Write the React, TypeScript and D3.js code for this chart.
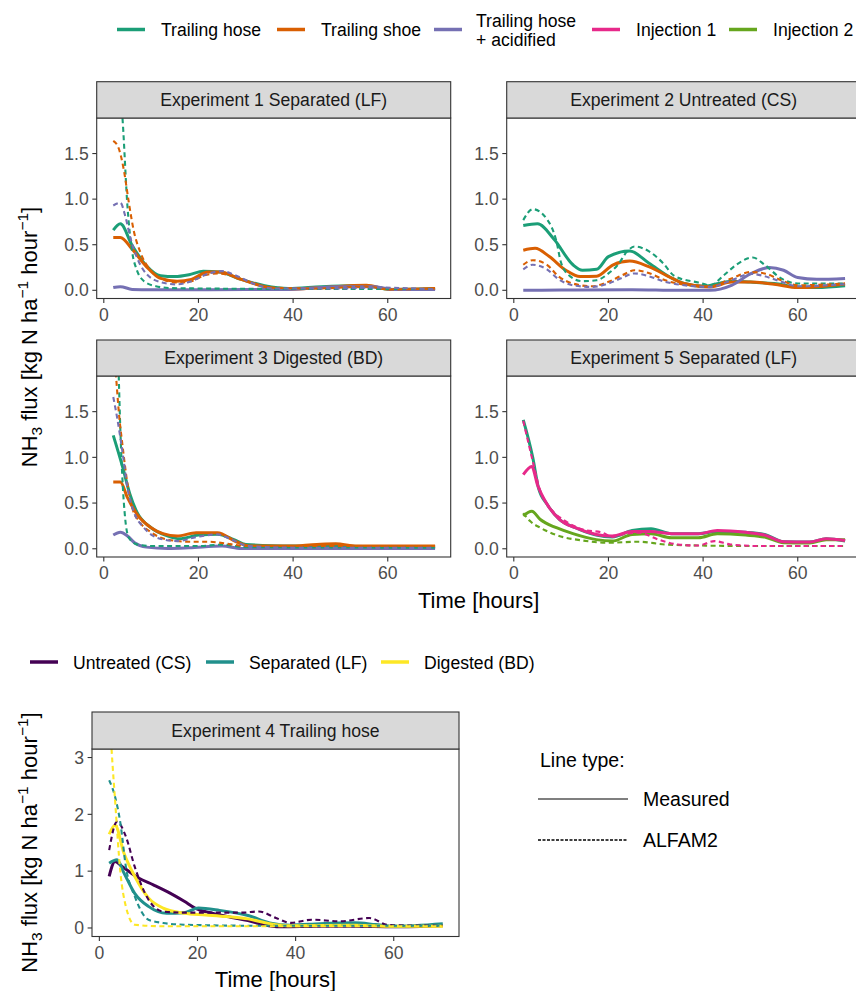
import React from 'react';
import * as d3 from 'd3';

type Pt = [number, number];

// colours (Dark2 for methods, viridis for slurry types)
const methodNames = ['Trailing hose', 'Trailing shoe', 'Trailing hose\n+ acidified', 'Injection 1', 'Injection 2'];
const methodColors = ['#1B9E77', '#D95F02', '#7570B3', '#E7298A', '#66A61E'];
const slurryNames = ['Untreated (CS)', 'Separated (LF)', 'Digested (BD)'];
const slurryColors = ['#440154', '#21908C', '#FDE725'];

const xTicks = [0, 20, 40, 60];
const yTicksTop = [0, 0.5, 1, 1.5];
const yTicksExp4 = [0, 1, 2, 3];

// Experiment 1 Separated (LF)
const e1HoseMeas: Pt[] = [[2, 0.66], [3.5, 0.73], [6, 0.49], [9, 0.27], [12, 0.16], [15, 0.15], [18, 0.17], [21, 0.21], [24.5, 0.2], [29, 0.12], [34, 0.05], [39, 0.02], [46, 0.04], [53, 0.05], [57, 0.04], [60.5, 0.01], [70, 0.02]];
const e1ShoeMeas: Pt[] = [[2, 0.58], [3.5, 0.58], [6, 0.45], [9, 0.26], [12, 0.13], [15.5, 0.1], [18.5, 0.12], [22, 0.2], [24.5, 0.2], [29, 0.12], [34, 0.04], [39, 0.01], [46, 0.03], [55.5, 0.055], [60.5, 0.01], [70, 0.02]];
const e1AcidMeas: Pt[] = [[2, 0.03], [3.5, 0.04], [6, 0.01], [10, 0.005], [20, 0.005], [30, 0.008], [39, 0.01], [50, 0.04], [57, 0.04], [61, 0.01], [70, 0.01]];
const e1HoseAlf: Pt[] = [[2, 3.0], [3, 2.5], [4, 1.85], [5, 0.92], [6, 0.42], [7, 0.22], [8.5, 0.1], [11, 0.045], [14, 0.025], [20, 0.02], [40, 0.015], [70, 0.015]];
const e1ShoeAlf: Pt[] = [[2, 1.64], [3.2, 1.55], [4.2, 1.33], [5.3, 0.96], [6.3, 0.66], [7.7, 0.42], [10, 0.21], [12.5, 0.12], [15.5, 0.085], [18.5, 0.1], [21, 0.16], [24, 0.185], [27, 0.16], [31, 0.085], [35, 0.03], [45, 0.02], [55.5, 0.04], [60.5, 0.01], [70, 0.02]];
const e1AcidAlf: Pt[] = [[2, 0.93], [3.5, 0.96], [4.6, 0.8], [5.6, 0.58], [7, 0.36], [9, 0.18], [12.3, 0.085], [15.5, 0.065], [18.5, 0.1], [22, 0.18], [25, 0.21], [28, 0.16], [32, 0.065], [36, 0.02], [50, 0.02], [57, 0.03], [70, 0.01]];

// Experiment 2 Untreated (CS)
const e2HoseMeas: Pt[] = [[2, 0.71], [5, 0.73], [8.5, 0.56], [12.5, 0.28], [14.5, 0.22], [17.5, 0.23], [20, 0.37], [24.5, 0.43], [28.5, 0.3], [33.5, 0.13], [36, 0.074], [40, 0.044], [46, 0.1], [50, 0.09], [55, 0.074], [60, 0.037], [64, 0.03], [70, 0.05]];
const e2ShoeMeas: Pt[] = [[2, 0.44], [4.5, 0.46], [7.5, 0.37], [11, 0.22], [14, 0.15], [17.5, 0.155], [21, 0.28], [24.5, 0.32], [28.5, 0.26], [33.5, 0.13], [36, 0.074], [41.5, 0.037], [46, 0.09], [50, 0.09], [55, 0.067], [60, 0.03], [70, 0.07]];
const e2AcidMeas: Pt[] = [[2, 0.0], [10, 0.003], [25, 0.007], [35, 0.0], [41.5, 0.0], [46, 0.055], [50, 0.18], [54, 0.25], [57, 0.22], [60, 0.14], [64, 0.12], [70, 0.13]];
const e2HoseAlf: Pt[] = [[2, 0.77], [4, 0.89], [7, 0.78], [9, 0.54], [10, 0.3], [12, 0.15], [14.5, 0.1], [17.5, 0.11], [20, 0.185], [22, 0.28], [24, 0.43], [25.5, 0.48], [28.5, 0.43], [31.5, 0.3], [34, 0.155], [39, 0.085], [41.5, 0.055], [44.5, 0.17], [47, 0.28], [50.5, 0.36], [53, 0.28], [56.5, 0.13], [60, 0.074], [70, 0.074]];
const e2ShoeAlf: Pt[] = [[2, 0.28], [4, 0.33], [7, 0.28], [9.5, 0.15], [12.5, 0.074], [16.5, 0.044], [20, 0.093], [23, 0.167], [25.5, 0.22], [28.5, 0.19], [32, 0.11], [36, 0.063], [41.5, 0.044], [46, 0.13], [50, 0.2], [53, 0.185], [56.5, 0.11], [60, 0.055], [70, 0.074]];
const e2AcidAlf: Pt[] = [[2, 0.23], [4, 0.28], [7, 0.23], [9.5, 0.12], [12.5, 0.055], [16.5, 0.037], [20, 0.074], [23, 0.14], [25.5, 0.185], [28.5, 0.155], [32, 0.093], [36, 0.055], [41.5, 0.037], [46, 0.11], [50, 0.18], [53, 0.155], [56.5, 0.093], [60, 0.044], [70, 0.067]];

// Experiment 3 Digested (BD)
const e3HoseMeas: Pt[] = [[2, 1.24], [4, 0.89], [5.5, 0.6], [7, 0.4], [10, 0.23], [13.5, 0.14], [16, 0.11], [20, 0.15], [24, 0.16], [27.5, 0.1], [30, 0.048], [40, 0.03], [55, 0.025], [70, 0.02]];
const e3ShoeMeas: Pt[] = [[2, 0.73], [3.5, 0.73], [5, 0.56], [7, 0.38], [10, 0.23], [12.5, 0.165], [15.5, 0.14], [19.5, 0.175], [24, 0.175], [28, 0.077], [31, 0.03], [39, 0.03], [45, 0.048], [49, 0.055], [53.5, 0.03], [70, 0.03]];
const e3AcidMeas: Pt[] = [[2, 0.15], [3.5, 0.18], [5, 0.14], [6.5, 0.066], [9, 0.018], [13.5, 0.004], [18, 0.011], [25, 0.03], [29, 0.004], [70, 0.004]];
const e3HoseAlf: Pt[] = [[2, 4.5], [3, 2.2], [3.5, 1.3], [4, 0.7], [4.5, 0.34], [5.3, 0.12], [7, 0.048], [10, 0.03], [20, 0.03], [25, 0.045], [30, 0.018], [70, 0.012]];
const e3ShoeAlf: Pt[] = [[2, 2.3], [2.5, 1.95], [3.2, 1.48], [4, 1.11], [5, 0.71], [6, 0.45], [7.5, 0.3], [10, 0.18], [13.5, 0.1], [18, 0.077], [22, 0.077], [27, 0.048], [30, 0.03], [70, 0.03]];
const e3AcidAlf: Pt[] = [[2, 1.66], [2.8, 1.44], [4, 1.04], [5, 0.67], [6.3, 0.41], [8.5, 0.23], [11.3, 0.12], [15.5, 0.084], [19.7, 0.13], [24, 0.157], [27, 0.1], [30.5, 0.03], [40, 0.012], [70, 0.01]];

// Experiment 5 Separated (LF)
const e5HoseMeas: Pt[] = [[2, 1.41], [4, 1.0], [5.2, 0.67], [7, 0.49], [9.7, 0.32], [13, 0.23], [17.4, 0.15], [20.8, 0.13], [25, 0.2], [29, 0.22], [33.3, 0.165], [39, 0.165], [43, 0.19], [49, 0.18], [53, 0.157], [57, 0.077], [62.5, 0.073], [66, 0.11], [70, 0.085]];
const e5Inj1Meas: Pt[] = [[2, 0.81], [3.8, 0.9], [5, 0.7], [7, 0.49], [9.7, 0.32], [13, 0.23], [17.4, 0.157], [20.8, 0.14], [25, 0.19], [29, 0.19], [33.3, 0.165], [39, 0.165], [43, 0.2], [49, 0.18], [53, 0.15], [57, 0.077], [62.5, 0.073], [66, 0.11], [70, 0.09]];
const e5Inj2Meas: Pt[] = [[2, 0.36], [3.8, 0.41], [5.6, 0.32], [9, 0.23], [12.5, 0.165], [17.4, 0.1], [20.8, 0.084], [25, 0.157], [29, 0.165], [33.3, 0.12], [39, 0.12], [43, 0.165], [49, 0.15], [53, 0.128], [57, 0.066], [62.5, 0.062], [66, 0.1], [70, 0.1]];
const e5Inj1Alf: Pt[] = [[2, 1.4], [4, 0.96], [5.6, 0.63], [7.6, 0.45], [11, 0.3], [14.6, 0.21], [18.8, 0.175], [20.8, 0.13], [23.6, 0.165], [26.4, 0.175], [30.6, 0.1], [34.7, 0.047], [39, 0.036], [42.4, 0.084], [45.8, 0.047], [52, 0.03], [70, 0.03]];
const e5Inj2Alf: Pt[] = [[2, 0.39], [3.5, 0.3], [5.6, 0.23], [9, 0.15], [14.6, 0.09], [20, 0.066], [26.4, 0.077], [32, 0.047], [39, 0.036], [52, 0.03], [70, 0.03]];

// Experiment 4 Trailing hose
const e4UntrMeas: Pt[] = [[2, 0.91], [3.2, 1.17], [4.7, 1.08], [8, 0.88], [11, 0.76], [14.5, 0.61], [17.3, 0.47], [19.5, 0.35], [23, 0.26], [26.7, 0.19], [30.3, 0.13], [33.2, 0.06], [37, 0.02], [45, 0.03], [52, 0.03], [60, 0.02], [70, 0.04]];
const e4SepMeas: Pt[] = [[2, 1.14], [3.6, 1.2], [5, 0.97], [7.2, 0.61], [10, 0.38], [13.7, 0.26], [17.3, 0.27], [20.2, 0.35], [24.5, 0.31], [30.3, 0.22], [34.7, 0.09], [39, 0.05], [45, 0.076], [52, 0.09], [56.3, 0.06], [60, 0.03], [70, 0.076]];
const e4DigMeas: Pt[] = [[2, 1.65], [3.2, 1.81], [5, 1.32], [7.2, 0.91], [10, 0.53], [13, 0.35], [17.3, 0.26], [21.7, 0.23], [26, 0.2], [30.3, 0.16], [34.7, 0.076], [39, 0.04], [52, 0.05], [60, 0.03], [70, 0.03]];
const e4UntrAlf: Pt[] = [[2, 1.37], [3.6, 1.87], [5.4, 1.61], [7.2, 1.08], [10, 0.5], [13, 0.29], [17.3, 0.27], [23, 0.27], [29, 0.27], [32.5, 0.29], [36, 0.175], [39, 0.09], [43.3, 0.146], [49, 0.117], [55, 0.175], [59, 0.05], [70, 0.04]];
const e4SepAlf: Pt[] = [[2, 2.6], [3.2, 2.31], [4.3, 1.84], [5.4, 1.08], [7.2, 0.56], [10, 0.146], [13, 0.088], [17.3, 0.058], [30, 0.04], [70, 0.04]];
const e4DigAlf: Pt[] = [[2, 3.9], [2.5, 3.13], [3.2, 2.25], [4.3, 0.97], [5.4, 0.38], [7.2, 0.058], [13, 0.03], [70, 0.03]];

type Series = { data: Pt[]; color: string; dashed: boolean };
type Panel = {
  id: string; title: string; left: number; right: number; strip: number; top: number; bottom: number;
  yDomain: [number, number]; yTicks: number[]; yFmt: (v: number) => string; series: Series[];
};

const fmt1 = d3.format('.1f');
const fmt0 = d3.format('d');
const FONT = '"Liberation Sans", Arial, Helvetica, sans-serif';

const m = (data: Pt[], i: number): Series => ({ data, color: methodColors[i], dashed: false });
const a = (data: Pt[], i: number): Series => ({ data, color: methodColors[i], dashed: true });
const sm = (data: Pt[], i: number): Series => ({ data, color: slurryColors[i], dashed: false });
const sa = (data: Pt[], i: number): Series => ({ data, color: slurryColors[i], dashed: true });

const panels: Panel[] = [
  {
    id: 'p1', title: 'Experiment 1 Separated (LF)', left: 96.7, right: 450.7, strip: 81.7, top: 118, bottom: 298.5,
    yDomain: [-0.09, 1.89], yTicks: yTicksTop, yFmt: fmt1,
    series: [m(e1HoseMeas, 0), m(e1ShoeMeas, 1), m(e1AcidMeas, 2), a(e1HoseAlf, 0), a(e1ShoeAlf, 1), a(e1AcidAlf, 2)],
  },
  {
    id: 'p2', title: 'Experiment 2 Untreated (CS)', left: 506.7, right: 860.7, strip: 81.7, top: 118, bottom: 298.5,
    yDomain: [-0.09, 1.89], yTicks: yTicksTop, yFmt: fmt1,
    series: [m(e2HoseMeas, 0), m(e2ShoeMeas, 1), m(e2AcidMeas, 2), a(e2HoseAlf, 0), a(e2ShoeAlf, 1), a(e2AcidAlf, 2)],
  },
  {
    id: 'p3', title: 'Experiment 3 Digested (BD)', left: 96.7, right: 450.7, strip: 340, top: 376, bottom: 557,
    yDomain: [-0.09, 1.89], yTicks: yTicksTop, yFmt: fmt1,
    series: [m(e3HoseMeas, 0), m(e3ShoeMeas, 1), m(e3AcidMeas, 2), a(e3HoseAlf, 0), a(e3ShoeAlf, 1), a(e3AcidAlf, 2)],
  },
  {
    id: 'p4', title: 'Experiment 5 Separated (LF)', left: 506.7, right: 860.7, strip: 340, top: 376, bottom: 557,
    yDomain: [-0.09, 1.89], yTicks: yTicksTop, yFmt: fmt1,
    series: [m(e5HoseMeas, 0), m(e5Inj2Meas, 4), m(e5Inj1Meas, 3), a(e5Inj2Alf, 4), a(e5Inj1Alf, 3)],
  },
  {
    id: 'p5', title: 'Experiment 4 Trailing hose', left: 92, right: 459, strip: 712, top: 749, bottom: 936.5,
    yDomain: [-0.15, 3.15], yTicks: yTicksExp4, yFmt: fmt0,
    series: [sm(e4UntrMeas, 0), sm(e4SepMeas, 1), sm(e4DigMeas, 2), sa(e4UntrAlf, 0), sa(e4SepAlf, 1), sa(e4DigAlf, 2)],
  },
];

function FacetPanel({ p }: { p: Panel }) {
  const x = d3.scaleLinear().domain([-1.5, 73.3]).range([p.left, p.right]);
  const y = d3.scaleLinear().domain(p.yDomain).range([p.bottom, p.top]);
  const line = d3.line<Pt>().x(d => x(d[0])).y(d => y(d[1])).curve(d3.curveMonotoneX);
  const w = p.right - p.left;
  const solid = p.series.filter(s => !s.dashed);
  const dashed = p.series.filter(s => s.dashed);
  return (
    <g>
      <defs>
        <clipPath id={`clip-${p.id}`}>
          <rect x={p.left} y={p.top} width={w} height={p.bottom - p.top} />
        </clipPath>
      </defs>
      <rect x={p.left} y={p.top} width={w} height={p.bottom - p.top} fill="#fff" />
      <g clipPath={`url(#clip-${p.id})`}>
        {solid.map((s, i) => (
          <path key={'s' + i} d={line(s.data) || ''} fill="none" stroke={s.color} strokeWidth={3} strokeLinejoin="round" />
        ))}
        {dashed.map((s, i) => (
          <path key={'d' + i} d={line(s.data) || ''} fill="none" stroke={s.color} strokeWidth={2.1} strokeDasharray="5,3.5" />
        ))}
      </g>
      <rect x={p.left} y={p.top} width={w} height={p.bottom - p.top} fill="none" stroke="#333333" strokeWidth={1.1} />
      {/* strip */}
      <rect x={p.left} y={p.strip} width={w} height={p.top - p.strip} fill="#D9D9D9" stroke="#333333" strokeWidth={1.1} />
      <text x={p.left + w / 2} y={(p.strip + p.top) / 2 + 6.3} textAnchor="middle" fontSize={17.6} fill="#1A1A1A">{p.title}</text>
      {/* y axis */}
      {p.yTicks.map(t => (
        <g key={'y' + t}>
          <line x1={p.left - 4.4} x2={p.left} y1={y(t)} y2={y(t)} stroke="#333333" strokeWidth={1.1} />
          <text x={p.left - 8} y={y(t) + 6.2} textAnchor="end" fontSize={17.6} fill="#4D4D4D">{p.yFmt(t)}</text>
        </g>
      ))}
      {/* x axis */}
      {xTicks.map(t => (
        <g key={'x' + t}>
          <line x1={x(t)} x2={x(t)} y1={p.bottom} y2={p.bottom + 4.4} stroke="#333333" strokeWidth={1.1} />
          <text x={x(t)} y={p.bottom + 22} textAnchor="middle" fontSize={17.6} fill="#4D4D4D">{t}</text>
        </g>
      ))}
    </g>
  );
}

function YTitle({ x, y }: { x: number; y: number }) {
  return (
    <text transform={`translate(${x},${y}) rotate(-90)`} textAnchor="middle" fontSize={22} fill="#000">
      NH<tspan dy={5} fontSize={15.5}>3</tspan>
      <tspan dy={-5}> flux [kg N ha</tspan>
      <tspan dy={-9} fontSize={15.5}>−1</tspan>
      <tspan dy={9}> hour</tspan>
      <tspan dy={-9} fontSize={15.5}>−1</tspan>
      <tspan dy={9}>]</tspan>
    </text>
  );
}

// legend positions follow the reference layout
const topKeyX = [117, 277, 434, 592, 729];
const bottomKeyX = [30, 206, 381];

export default function App() {
  return (
    <div style={{ position: 'absolute', left: 0, top: 0 }}>
      <svg width={856} height={991} style={{ display: 'block', fontFamily: FONT }}>
        <rect width={856} height={991} fill="#fff" />
        {/* top legend */}
        {methodNames.map((name, i) => {
          const lines = name.split('\n');
          const kx = topKeyX[i];
          return (
            <g key={name}>
              <line x1={kx} x2={kx + 28} y1={29.5} y2={29.5} stroke={methodColors[i]} strokeWidth={3.5} />
              {lines.length === 1 ? (
                <text x={kx + 44} y={36.3} fontSize={17.6} fill="#000">{name}</text>
              ) : (
                <text x={kx + 42} y={26.5} fontSize={17.6} fill="#000">
                  <tspan x={kx + 42}>{lines[0]}</tspan>
                  <tspan x={kx + 42} dy={19.5}>{lines[1]}</tspan>
                </text>
              )}
            </g>
          );
        })}

        {panels.map(p => <FacetPanel key={p.id} p={p} />)}

        <YTitle x={37} y={337} />
        <text x={478.7} y={608} textAnchor="middle" fontSize={22} fill="#000">Time [hours]</text>

        {/* bottom legend */}
        {slurryNames.map((name, i) => (
          <g key={name}>
            <line x1={bottomKeyX[i]} x2={bottomKeyX[i] + 28} y1={662} y2={662} stroke={slurryColors[i]} strokeWidth={3.5} />
            <text x={bottomKeyX[i] + 43} y={669} fontSize={17.6} fill="#000">{name}</text>
          </g>
        ))}

        <YTitle x={37} y={842.5} />
        <text x={275.5} y={987} textAnchor="middle" fontSize={22} fill="#000">Time [hours]</text>

        {/* line type legend */}
        <text x={540} y={767} fontSize={19.5} fill="#000">Line type:</text>
        <line x1={538} x2={628} y1={799} y2={799} stroke="#000" strokeWidth={1.2} />
        <text x={643} y={806} fontSize={19.5} fill="#000">Measured</text>
        <line x1={538} x2={628} y1={840} y2={840} stroke="#000" strokeWidth={1.6} strokeDasharray="3,1.5" />
        <text x={643} y={847} fontSize={19.5} fill="#000">ALFAM2</text>
      </svg>
    </div>
  );
}
